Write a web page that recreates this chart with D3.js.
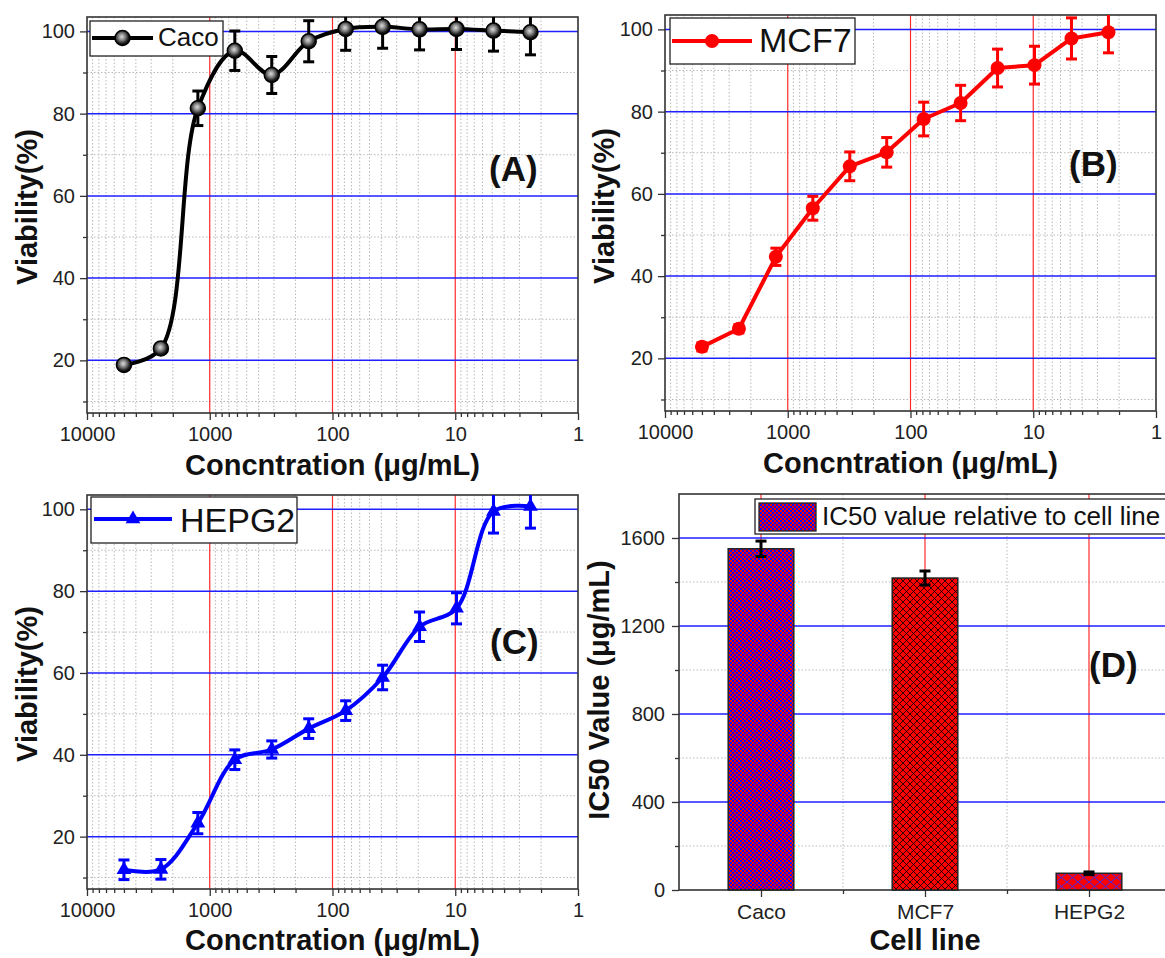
<!DOCTYPE html>
<meta charset="utf-8">
<style>

body {
  margin: 0;
  background: #fff;
}

svg {
  display: block;
  font-family: Arial, "Liberation Sans", sans-serif;
}

.tick text {
  font-size: 20px;
  fill: #222;
}

.cat .tick text {
  font-size: 21px;
}

.tick line {
  stroke: #333;
  stroke-width: 1.3px;
}

.frame {
  fill: none;
  stroke: #333;
  stroke-width: 1.6px;
}

.major-h {
  stroke: #1f1fff;
  stroke-width: 1.5px;
}

.major-v {
  stroke: #ff2a2a;
  stroke-width: 1.2px;
}

.minor-grid {
  stroke: #b8b8b8;
  stroke-width: 1px;
  stroke-dasharray: 1.5,2;
}

.title {
  font-weight: bold;
  font-size: 29px;
  fill: #111;
}

.panel {
  font-weight: bold;
  font-size: 35px;
  fill: #111;
}

.legend-box {
  fill: #fff;
  stroke: #222;
  stroke-width: 1.3px;
}

</style>
<body>
<script src="https://d3js.org/d3.v7.min.js"></script>
<script>

// concentrations (µg/mL), two-fold dilution series
var conc = [5000, 2500, 1250, 625, 312.5, 156.25, 78.13, 39.06, 19.53, 9.77, 4.88, 2.44];

var cacoViab = [18.9, 22.9, 81.3, 95.3, 89.4, 97.6, 100.6, 101.1, 100.5, 100.6, 100.2, 99.8];
var cacoErr  = [1.0, 1.0, 4.2, 4.8, 4.5, 5.0, 5.2, 5.2, 5.0, 5.0, 5.0, 5.5];

var mcf7Viab = [22.8, 27.2, 44.7, 56.5, 66.7, 70.1, 78.2, 82.1, 90.6, 91.3, 97.8, 99.3];
var mcf7Err  = [1.0, 1.0, 2.1, 2.9, 3.5, 3.6, 4.1, 4.3, 4.6, 4.6, 5.0, 5.0];

var hepg2Viab = [11.9, 12.0, 23.3, 38.8, 41.3, 46.4, 50.8, 58.9, 71.3, 75.8, 99.5, 100.7];
var hepg2Err  = [2.4, 2.4, 2.6, 2.4, 2.1, 2.4, 2.4, 3.0, 3.6, 3.8, 5.3, 5.3];

var cellLines = ["Caco", "MCF7", "HEPG2"];
var ic50 = [1551, 1418, 76];
var ic50Err = [35, 32, 6];

var logTicks = [10000, 1000, 100, 10, 1];
var viabTicks = [20, 40, 60, 80, 100];
var viabMinor = [10, 30, 50, 70, 90];
var ic50Ticks = [0, 400, 800, 1200, 1600];
var ic50Minor = [200, 600, 1000, 1400];

var minorLog = [];
[1, 10, 100, 1000].forEach(function(b) {
  d3.range(2, 10).forEach(function(k) { minorLog.push(b * k); });
});

var svg = d3.select("body").append("svg")
    .attr("width", 1165)
    .attr("height", 958);

var defs = svg.append("defs");

var ball = defs.append("radialGradient")
    .attr("id", "ball")
    .attr("cx", "45%").attr("cy", "42%").attr("r", "60%");
ball.append("stop").attr("offset", "0%").attr("stop-color", "#dcdcdc");
ball.append("stop").attr("offset", "35%").attr("stop-color", "#8c8c8c");
ball.append("stop").attr("offset", "75%").attr("stop-color", "#1c1c1c");
ball.append("stop").attr("offset", "100%").attr("stop-color", "#000");

// hatch patterns for the IC50 bars
function hatch(id, w, h, bg, fg, sw) {
  var p = defs.append("pattern")
      .attr("id", id)
      .attr("patternUnits", "userSpaceOnUse")
      .attr("width", w).attr("height", h);
  p.append("rect").attr("width", w).attr("height", h).attr("fill", bg);
  p.append("path")
      .attr("d", "M0,0L" + w + "," + h + "M" + w + ",0L0," + h)
      .attr("stroke", fg).attr("stroke-width", sw);
}

// fine red/blue checker for Caco
var chk = defs.append("pattern")
    .attr("id", "hatchCaco")
    .attr("patternUnits", "userSpaceOnUse")
    .attr("width", 4).attr("height", 4);
chk.append("rect").attr("width", 4).attr("height", 4).attr("fill", "#ff0000");
chk.append("rect").attr("width", 2).attr("height", 2).attr("fill", "#1010ee");
chk.append("rect").attr("x", 2).attr("y", 2).attr("width", 2).attr("height", 2).attr("fill", "#1010ee");

hatch("hatchMcf7", 7, 7, "#ff0000", "#000", 0.8);
hatch("hatchHepg2", 11, 9, "#ff0000", "#2a2aff", 0.9);
var barFills = ["url(#hatchCaco)", "url(#hatchMcf7)", "url(#hatchHepg2)"];

function marker(sel, type, color, cx, cy) {
  if (type === "ball") {
    sel.append("circle").attr("cx", cx).attr("cy", cy).attr("r", 7.5)
        .attr("fill", "url(#ball)").attr("stroke", "#000").attr("stroke-width", 1.5);
  } else if (type === "circle") {
    sel.append("circle").attr("cx", cx).attr("cy", cy).attr("r", 7)
        .attr("fill", color);
  } else {
    sel.append("path")
        .attr("d", d3.symbol(d3.symbolTriangle, 95)())
        .attr("transform", "translate(" + cx + "," + cy + ")")
        .attr("fill", color);
  }
}

function viabilityPanel(p) {
  var x = d3.scaleLog().domain([10000, 1]).range([p.x0, p.x1]);
  var y = d3.scaleLinear().domain([7.2, 103.5]).range([p.y1, p.y0]);
  var g = svg.append("g");

  defs.append("clipPath").attr("id", "clip" + p.id)
    .append("rect")
      .attr("x", p.x0).attr("y", p.y0)
      .attr("width", p.x1 - p.x0).attr("height", p.y1 - p.y0);

  // grid
  g.selectAll(".mv").data(minorLog).join("line")
      .attr("class", "minor-grid")
      .attr("x1", x).attr("x2", x).attr("y1", p.y0).attr("y2", p.y1);
  g.selectAll(".mh").data(viabMinor).join("line")
      .attr("class", "minor-grid")
      .attr("x1", p.x0).attr("x2", p.x1).attr("y1", y).attr("y2", y);
  g.selectAll(".gv").data([1000, 100, 10]).join("line")
      .attr("class", "major-v")
      .attr("x1", x).attr("x2", x).attr("y1", p.y0).attr("y2", p.y1);
  g.selectAll(".gh").data(viabTicks).join("line")
      .attr("class", "major-h")
      .attr("x1", p.x0).attr("x2", p.x1).attr("y1", y).attr("y2", y);

  // axes
  g.append("g")
      .attr("transform", "translate(0," + p.y1 + ")")
      .call(d3.axisBottom(x).tickValues(logTicks).tickFormat(d3.format("d")).tickSize(7).tickPadding(7))
      .call(function(a) { a.select(".domain").remove(); });
  g.append("g")
      .attr("transform", "translate(0," + p.y1 + ")")
      .call(d3.axisBottom(x).tickValues(minorLog).tickFormat("").tickSize(4))
      .call(function(a) { a.select(".domain").remove(); });
  g.append("g")
      .attr("transform", "translate(" + p.x0 + ",0)")
      .call(d3.axisLeft(y).tickValues(viabTicks).tickSize(7).tickPadding(5))
      .call(function(a) { a.select(".domain").remove(); });
  g.append("g")
      .attr("transform", "translate(" + p.x0 + ",0)")
      .call(d3.axisLeft(y).tickValues(viabMinor).tickFormat("").tickSize(4))
      .call(function(a) { a.select(".domain").remove(); });

  g.append("rect").attr("class", "frame")
      .attr("x", p.x0).attr("y", p.y0)
      .attr("width", p.x1 - p.x0).attr("height", p.y1 - p.y0);

  // data
  var pts = conc.map(function(c, i) { return {c: c, v: p.values[i], e: p.errors[i]}; });
  var d = g.append("g").attr("clip-path", "url(#clip" + p.id + ")");

  d.append("path")
      .datum(pts)
      .attr("fill", "none")
      .attr("stroke", p.color)
      .attr("stroke-width", 4)
      .attr("stroke-linejoin", "round")
      .attr("d", d3.line()
          .x(function(q) { return x(q.c); })
          .y(function(q) { return y(q.v); })
          .curve(p.curve));

  var eb = d.selectAll(".err").data(pts).join("g")
      .attr("stroke", p.color).attr("stroke-width", 3);
  eb.append("line")
      .attr("x1", function(q) { return x(q.c); }).attr("x2", function(q) { return x(q.c); })
      .attr("y1", function(q) { return y(q.v - q.e); }).attr("y2", function(q) { return y(q.v + q.e); });
  eb.append("line")
      .attr("x1", function(q) { return x(q.c) - 5.5; }).attr("x2", function(q) { return x(q.c) + 5.5; })
      .attr("y1", function(q) { return y(q.v - q.e); }).attr("y2", function(q) { return y(q.v - q.e); });
  eb.append("line")
      .attr("x1", function(q) { return x(q.c) - 5.5; }).attr("x2", function(q) { return x(q.c) + 5.5; })
      .attr("y1", function(q) { return y(q.v + q.e); }).attr("y2", function(q) { return y(q.v + q.e); });

  pts.forEach(function(q) { marker(g, p.marker, p.color, x(q.c), y(q.v)); });

  // legend
  var L = p.legend;
  g.append("rect").attr("class", "legend-box")
      .attr("x", L.x0).attr("y", L.y0)
      .attr("width", L.x1 - L.x0).attr("height", L.y1 - L.y0);
  g.append("line")
      .attr("x1", L.lx0).attr("x2", L.lx1).attr("y1", L.ly).attr("y2", L.ly)
      .attr("stroke", p.color).attr("stroke-width", 4);
  marker(g, p.marker, p.color, (L.lx0 + L.lx1) / 2, L.ly);
  g.append("text")
      .attr("x", L.tx).attr("y", L.ty)
      .attr("font-size", L.fs)
      .attr("fill", "#111")
      .text(p.name);

  g.append("text").attr("class", "panel")
      .attr("x", p.labelX).attr("y", p.labelY)
      .text(p.label);

  g.append("text").attr("class", "title")
      .attr("x", (p.x0 + p.x1) / 2).attr("y", p.xTitleY)
      .attr("text-anchor", "middle")
      .text("Concntration (\u03bcg/mL)");
  g.append("text").attr("class", "title")
      .attr("transform", "translate(" + p.yTitleX + "," + p.yTitleY + ") rotate(-90)")
      .attr("text-anchor", "middle")
      .attr("dy", "0.35em")
      .text("Viability(%)");
}

viabilityPanel({
  id: "A", name: "Caco", label: "(A)", color: "#000", marker: "ball",
  values: cacoViab, errors: cacoErr, curve: d3.curveCatmullRom,
  x0: 87, x1: 578, y0: 17, y1: 413,
  legend: {x0: 90, x1: 223, y0: 21, y1: 56, lx0: 92, lx1: 153, ly: 38, tx: 158, ty: 46, fs: 26},
  labelX: 489, labelY: 181, xTitleY: 475, yTitleX: 27, yTitleY: 207
});

viabilityPanel({
  id: "B", name: "MCF7", label: "(B)", color: "#ff0000", marker: "circle",
  values: mcf7Viab, errors: mcf7Err, curve: d3.curveLinear,
  x0: 665, x1: 1156, y0: 15, y1: 411,
  legend: {x0: 670, x1: 855, y0: 18, y1: 64, lx0: 672, lx1: 752, ly: 41, tx: 759, ty: 52, fs: 34},
  labelX: 1069, labelY: 176, xTitleY: 473, yTitleX: 604, yTitleY: 206
});

viabilityPanel({
  id: "C", name: "HEPG2", label: "(C)", color: "#0000ff", marker: "triangle",
  values: hepg2Viab, errors: hepg2Err, curve: d3.curveCatmullRom,
  x0: 87, x1: 578, y0: 495, y1: 889,
  legend: {x0: 91, x1: 297, y0: 497, y1: 543, lx0: 94, lx1: 172, ly: 519, tx: 180, ty: 532, fs: 34},
  labelX: 490, labelY: 654, xTitleY: 950, yTitleX: 27, yTitleY: 684
});

// (D) IC50 bar chart
(function() {
  var x0 = 679, x1 = 1171, y0 = 494, y1 = 890;
  var x = d3.scaleLinear().domain([0.5, 3.5]).range([x0, x1]);
  var y = d3.scaleLinear().domain([0, 1800]).range([y1, y0]);
  var g = svg.append("g");
  var bw = x(1.2) - x(0.8);

  g.selectAll(".mv").data([1.5, 2.5, 3.5]).join("line")
      .attr("class", "minor-grid")
      .attr("x1", x).attr("x2", x).attr("y1", y0).attr("y2", y1);
  g.selectAll(".mh").data(ic50Minor).join("line")
      .attr("class", "minor-grid")
      .attr("x1", x0).attr("x2", x1).attr("y1", y).attr("y2", y);
  g.selectAll(".gv").data([1, 2, 3]).join("line")
      .attr("class", "major-v")
      .attr("x1", x).attr("x2", x).attr("y1", y0).attr("y2", y1);
  g.selectAll(".gh").data(ic50Ticks.slice(1)).join("line")
      .attr("class", "major-h")
      .attr("x1", x0).attr("x2", x1).attr("y1", y).attr("y2", y);

  g.append("g")
      .attr("class", "cat")
      .attr("transform", "translate(0," + y1 + ")")
      .call(d3.axisBottom(x).tickValues([1, 2, 3])
          .tickFormat(function(d) { return cellLines[d - 1]; })
          .tickSize(7).tickPadding(7))
      .call(function(a) { a.select(".domain").remove(); });
  g.append("g")
      .attr("transform", "translate(0," + y1 + ")")
      .call(d3.axisBottom(x).tickValues([1.5, 2.5, 3.5]).tickFormat("").tickSize(4))
      .call(function(a) { a.select(".domain").remove(); });
  g.append("g")
      .attr("transform", "translate(" + x0 + ",0)")
      .call(d3.axisLeft(y).tickValues(ic50Ticks).tickFormat(d3.format("d")).tickSize(7).tickPadding(7))
      .call(function(a) { a.select(".domain").remove(); });
  g.append("g")
      .attr("transform", "translate(" + x0 + ",0)")
      .call(d3.axisLeft(y).tickValues(ic50Minor).tickFormat("").tickSize(4))
      .call(function(a) { a.select(".domain").remove(); });

  g.append("rect").attr("class", "frame")
      .attr("x", x0).attr("y", y0)
      .attr("width", x1 - x0).attr("height", y1 - y0);

  g.selectAll(".bar").data(ic50).join("rect")
      .attr("x", function(d, i) { return x(i + 1) - bw / 2; })
      .attr("y", function(d) { return y(d); })
      .attr("width", bw)
      .attr("height", function(d) { return y1 - y(d); })
      .attr("fill", function(d, i) { return barFills[i]; })
      .attr("stroke", "#222")
      .attr("stroke-width", 1.5);

  var eb = g.selectAll(".err").data(ic50).join("g")
      .attr("stroke", "#000").attr("stroke-width", 3);
  eb.append("line")
      .attr("x1", function(d, i) { return x(i + 1); }).attr("x2", function(d, i) { return x(i + 1); })
      .attr("y1", function(d, i) { return y(d - ic50Err[i]); })
      .attr("y2", function(d, i) { return y(d + ic50Err[i]); });
  [-1, 1].forEach(function(s) {
    eb.append("line")
        .attr("x1", function(d, i) { return x(i + 1) - 5.5; })
        .attr("x2", function(d, i) { return x(i + 1) + 5.5; })
        .attr("y1", function(d, i) { return y(d + s * ic50Err[i]); })
        .attr("y2", function(d, i) { return y(d + s * ic50Err[i]); });
  });

  // legend
  g.append("rect").attr("class", "legend-box")
      .attr("x", 755).attr("y", 499)
      .attr("width", 430).attr("height", 35)
      .attr("stroke-width", 2);
  g.append("rect")
      .attr("x", 759).attr("y", 503).attr("width", 57).attr("height", 28)
      .attr("fill", barFills[0]).attr("stroke", "#222").attr("stroke-width", 1.3);
  g.append("text")
      .attr("x", 822).attr("y", 525)
      .attr("font-size", 26).attr("fill", "#111")
      .text("IC50 value relative to cell line");

  g.append("text").attr("class", "panel")
      .attr("x", 1089).attr("y", 677)
      .text("(D)");

  g.append("text").attr("class", "title")
      .attr("x", (x0 + x1) / 2).attr("y", 950)
      .attr("text-anchor", "middle")
      .text("Cell line");
  g.append("text").attr("class", "title")
      .attr("transform", "translate(599,690) rotate(-90)")
      .attr("text-anchor", "middle")
      .attr("dy", "0.35em")
      .text("IC50 Value (\u03bcg/mL)");
})();

</script>
